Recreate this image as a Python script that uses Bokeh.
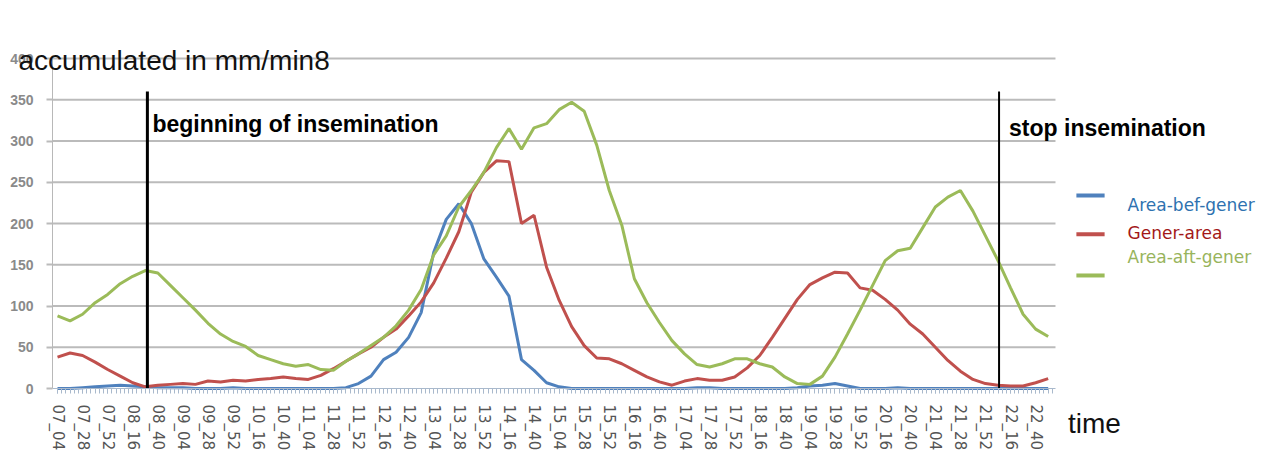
from bokeh.plotting import figure
from bokeh.models import FixedTicker, Label, Range1d
from bokeh.embed import file_html
from bokeh.resources import INLINE

# ---------------- data ----------------
def to_min(s):
    h, m = s.split("_")
    return int(h) * 60 + int(m) - (7 * 60 + 4)

# sample times every 12 minutes, 07_04 .. 22_52
times = ["%02d_%02d" % divmod(7 * 60 + 4 + 12 * k, 60) for k in range(80)]

tick_labels = ["07_04", "07_28", "07_52", "08_16", "08_40", "09_04", "09_28", "09_52",
               "10_16", "10_40", "11_04", "11_28", "11_52", "12_16", "12_40", "13_04",
               "13_28", "13_52", "14_16", "14_40", "15_04", "15_28", "15_52", "16_16",
               "16_40", "17_04", "17_28", "17_52", "18_16", "18_40", "19_04", "19_28",
               "19_52", "20_16", "20_40", "21_04", "21_28", "21_52", "22_16", "22_40"]

y_ticks = [0, 50, 100, 150, 200, 250, 300, 350, 400]

area_bef_gener = [0, 0, 1, 2, 3, 4, 3, 2, 1, 1, 1, 0, 0, 0, 1, 0, 0, 0, 0, 0,
                  0, 0, 0, 1, 6, 15, 35, 44, 62, 92, 165, 205, 224, 200, 157, 135, 112, 35, 22, 7,
                  2, 0, 0, 0, 0, 0, 0, 0, 0, 0, 0, 1, 1, 0, 0, 0, 0, 0, 0, 1,
                  3, 4, 6, 3, 0, 0, 0, 1, 0, 0, 0, 0, 0, 0, 0, 0, 0, 0, 0, 0]

gener_area = [38, 43, 40, 32, 23, 15, 7, 2, 4, 5, 6, 5, 9, 8, 10, 9, 11, 12, 14, 12,
              11, 16, 24, 33, 42, 50, 62, 72, 88, 105, 128, 158, 190, 238, 262, 276, 275, 200, 210, 147,
              107, 75, 52, 37, 36, 30, 22, 14, 8, 4, 9, 12, 10, 10, 14, 25, 40, 62, 85, 108,
              126, 134, 141, 140, 122, 119, 108, 95, 78, 66, 50, 34, 21, 11, 6, 4, 3, 3, 7, 12]

area_aft_gener = [88, 82, 90, 104, 114, 127, 136, 143, 140, 125, 110, 95, 79, 66, 57, 51, 40, 35, 30, 27,
                  29, 23, 22, 33, 42, 52, 62, 76, 95, 120, 162, 185, 220, 240, 262, 292, 315, 290, 316, 321,
                  338, 347, 336, 295, 240, 198, 133, 104, 80, 58, 42, 29, 26, 30, 36, 36, 30, 26, 14, 6,
                  5, 15, 38, 66, 95, 125, 155, 167, 170, 195, 220, 232, 240, 215, 185, 155, 122, 90, 72, 63]

series_names = ["Area-bef-gener", "Gener-area", "Area-aft-gener"]
events = ["08_30", "22_05"]
event_texts = ["beginning of insemination", "stop insemination"]

# ---------------- layout constants ----------------
W, H = 1272, 475
X0, X1 = -4.8, 955          # plotted time span (minutes after 07_04)
PX = 1.045                  # px per minute
PY = 0.825                  # px per unit
AX_LEFT, AX_BOTTOM = 52, 388   # pixel position of the axes
xr = Range1d(X0 - AX_LEFT / PX, X0 + (W - AX_LEFT) / PX)
yr = Range1d(-(H - AX_BOTTOM) / PY, AX_BOTTOM / PY)

x = [to_min(t) for t in times]
tick_pos = [to_min(t) for t in tick_labels]

p = figure(width=W, height=H, x_range=xr, y_range=yr,
           output_backend="svg", toolbar_location=None,
           min_border_left=0, min_border_right=0, min_border_top=0, min_border_bottom=0)
p.outline_line_color = None
p.background_fill_color = "white"
p.border_fill_color = "white"
p.xgrid.visible = False
p.ygrid.visible = False

# horizontal grid lines limited to the chart area
p.segment(x0=[X0] * (len(y_ticks) - 1), y0=y_ticks[1:], x1=[X1] * (len(y_ticks) - 1), y1=y_ticks[1:],
          line_color="#bbbbbb", line_width=2)

p.yaxis.fixed_location = X0
p.yaxis.bounds = (0, 400)
p.yaxis.ticker = FixedTicker(ticks=y_ticks)
p.yaxis.major_label_text_font_size = "14px"
p.yaxis.major_label_text_color = "#8a8a8a"
p.yaxis.major_label_text_font_style = "bold"
p.yaxis.major_label_standoff = 13
p.yaxis.axis_line_color = "#b8b8b8"
p.yaxis.major_tick_line_color = "#bbbbbb"
p.yaxis.major_tick_line_width = 2
p.yaxis.major_tick_in = 0
p.yaxis.major_tick_out = 6
p.yaxis.minor_tick_line_color = None

p.xaxis.fixed_location = 0
p.xaxis.bounds = (X0, X1)
p.xaxis.ticker = FixedTicker(ticks=tick_pos, minor_ticks=list(range(0, 953, 4)))
p.xaxis.major_label_overrides = {t: l for t, l in zip(tick_pos, tick_labels)}
p.xaxis.major_label_orientation = "vertical"
p.xaxis.major_label_text_font = "DejaVu Sans"
p.xaxis.major_label_text_font_size = "15px"
p.xaxis.major_label_text_color = "#555555"
p.xaxis.major_label_standoff = 11
p.xaxis.axis_line_color = "#a9b9cc"
p.xaxis.major_tick_line_color = "#a9b9cc"
p.xaxis.minor_tick_line_color = "#a9b9cc"
p.xaxis.major_tick_in = 0
p.xaxis.major_tick_out = 5
p.xaxis.minor_tick_in = 0
p.xaxis.minor_tick_out = 5

line_colors = ["#4F81BD", "#C0504D", "#9BBB59"]
text_colors = ["#2e72b0", "#a31818", "#98b45c"]
for ys, c, n in zip([area_bef_gener, gener_area, area_aft_gener], line_colors, series_names):
    p.line(x, ys, line_color=c, line_width=3, name=n)

# event lines
ev_x = [to_min(e) for e in events]
p.segment(x0=ev_x, y0=[0, 0], x1=ev_x, y1=[360, 360], line_color="black", line_width=[3, 2])

for ex, txt, yv, off in zip(ev_x, event_texts, [321, 316], [5, 10]):
    p.add_layout(Label(x=ex, y=yv, x_offset=off, text=txt, text_font="Liberation Sans",
                       text_font_style="bold", text_font_size="23px", text_color="black",
                       text_baseline="alphabetic"))

p.add_layout(Label(x=-37.3, y=397, text="accumulated in mm/min8", text_font="Liberation Sans",
                   text_font_size="28px", text_color="#111111", text_baseline="alphabetic"))
p.add_layout(Label(x=967, y=-42, text="time", text_font="Liberation Sans",
                   text_font_size="28px", text_color="#111111", text_baseline="alphabetic"))

# legend (samples + coloured texts)
leg_glyph_y = [234, 187, 137]
leg_text_y = [222, 189, 160]
p.segment(x0=[975] * 3, y0=leg_glyph_y, x1=[1002] * 3, y1=leg_glyph_y,
          line_color=line_colors, line_width=4)
for name, tc, ty in zip(series_names, text_colors, leg_text_y):
    p.add_layout(Label(x=1024, y=ty, text=name, text_font="DejaVu Sans", text_font_size="17px",
                       text_color=tc, text_baseline="middle"))

open("out.html", "w").write(file_html(p, INLINE))
